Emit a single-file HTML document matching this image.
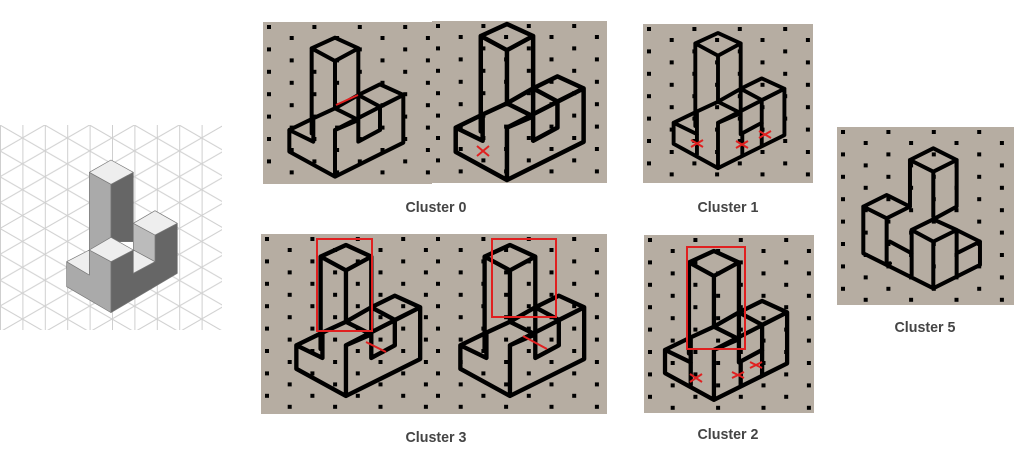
<!DOCTYPE html>
<html><head><meta charset="utf-8"><style>
html,body{margin:0;padding:0;background:#fff;width:1024px;height:453px;overflow:hidden}
</style></head><body>
<svg id="s" width="1024" height="453" viewBox="0 0 1024 453" xmlns="http://www.w3.org/2000/svg">
<defs>
<pattern id="tri" patternUnits="userSpaceOnUse" width="44.8" height="25.87" x="0" y="125">
<path d="M0.5,0 V25.87 M22.9,0 V25.87 M0,-25.87 L44.8,0 M0,0 L44.8,25.87 M0,25.87 L44.8,51.74 M0,0 L44.8,-25.87 M0,25.87 L44.8,0 M0,51.74 L44.8,25.87" stroke="#cfcfcf" stroke-width="1" fill="none"/>
</pattern>
<g id="T" fill="none" stroke="#000" stroke-width="12" stroke-linejoin="round" stroke-linecap="round">
<path d="M155,100 L225,68 L295,100 L225,138 Z M155,100 V355 M225,138 V280 M295,100 V380 L360,345 M295,240 L360,208 L430,240 L360,275 Z M360,275 V345 M430,240 V383 L225,485 L88,410 V345 L160,310 L225,280 L295,315 L225,345 Z M88,345 L160,380 V315 M225,345 V485 M225,280 L295,240"/>
</g>
</defs>
<rect x="0" y="125" width="222" height="205" fill="url(#tri)"/>
<g transform="translate(0,120) scale(0.3333)" stroke="#777" stroke-width="2" stroke-linejoin="round">
<polygon points="268,157 333,193 333,365 268,390" fill="#aaa"/>
<polygon points="333,193 400,157 400,365 333,365" fill="#666"/>
<polygon points="268,157 333,120 400,157 333,193" fill="#eee"/>
<polygon points="200,425 268,465 268,390 333,425 333,578 200,500" fill="#aaa"/>
<polygon points="200,425 268,390 268,465" fill="#eee"/>
<polygon points="333,425 400,390 400,460 465,425 465,345 532,310 532,460 333,578" fill="#666"/>
<polygon points="400,310 465,345 465,425 400,390" fill="#bbb"/>
<polygon points="400,310 465,272 532,310 465,345" fill="#eee"/>
<polygon points="400,390 465,425 400,460" fill="#eee"/>
<polygon points="268,390 333,352 400,390 333,425" fill="#eee"/>
</g>
<g id="panels"></g>
<g fill="none" stroke="#e02020" stroke-width="2">
<line x1="336" y1="105" x2="358" y2="95"/>
<path d="M477,146 L489,156 M477,156 L489,146"/>
<path d="M691,140 L703,147 M691,147 L703,140 M736,141 L748,148 M736,148 L748,141 M759,131 L771,138 M759,138 L771,131"/>
<rect x="317" y="239" width="55" height="92"/>
<rect x="492" y="239" width="64" height="78"/>
<rect x="687" y="247" width="58" height="102"/>
<line x1="366" y1="342" x2="386" y2="352"/>
<line x1="523" y1="336" x2="547" y2="349"/>
<path d="M690,374 L702,382 M690,382 L702,374 M732,372 L744,378 M732,378 L744,372 M750,362 L762,368 M750,368 L762,362"/>
</g>
<g font-family="Liberation Sans, sans-serif" font-weight="bold" font-size="15" fill="#454545" text-anchor="middle">
<text x="436" y="212" textLength="61" lengthAdjust="spacingAndGlyphs">Cluster 0</text>
<text x="728" y="212" textLength="61" lengthAdjust="spacingAndGlyphs">Cluster 1</text>
<text x="925" y="332" textLength="61" lengthAdjust="spacingAndGlyphs">Cluster 5</text>
<text x="436" y="442" textLength="61" lengthAdjust="spacingAndGlyphs">Cluster 3</text>
<text x="728" y="439" textLength="61" lengthAdjust="spacingAndGlyphs">Cluster 2</text>
</g>
</svg>
<script>
var NS="http://www.w3.org/2000/svg";
var g=document.getElementById('panels');
function el(n,a,p){var e=document.createElementNS(NS,n);for(var k in a)e.setAttribute(k,a[k]);(p||g).appendChild(e);return e;}
function panel(x,y,w,h){
  el('rect',{x:x,y:y,width:w,height:h,fill:'#b6ada2'});
  var c=0;
  for(var dx=6;dx<w-3;dx+=22.7,c++){
    for(var dy=(c%2?16:5);dy<h-3;dy+=22.4){
      el('rect',{x:(x+dx-2).toFixed(1),y:(y+dy-2).toFixed(1),width:4,height:4,fill:'#000'});
    }
  }
}
panel(263,22,169,162);panel(432,21,175,162);
panel(643,24,170,159);
panel(837,127,177,178);
panel(261,234,171,180);panel(432,234,175,180);
panel(644,235,170,178);
function use(tx,ty,s){el('use',{href:'#T',transform:'translate('+tx+','+ty+') scale('+s+')'});}
use(260,15,0.3333);
use(422.8,-1.4,0.374);
use(645.1,11,0.324);
use(264.5,220.4,0.362);
use(428.5,220.4,0.362);
use(633.6,226.7,0.357);
var ex=el('g',{transform:'translate(645.1,11) scale(0.324)',stroke:'#000','stroke-width':12,fill:'none'});
el('path',{d:'M160,380 V445 M300,378 V450 M360,345 V420'},ex);
var ex2=el('g',{transform:'translate(633.6,226.7) scale(0.357)',stroke:'#000','stroke-width':12,fill:'none'});
el('path',{d:'M160,380 V445 M300,378 V450 M360,345 V420'},ex2);
var c5=el('g',{transform:'translate(640,20) scale(0.3333)',stroke:'#000','stroke-width':12,fill:'none','stroke-linejoin':'round','stroke-linecap':'round'});
el('path',{d:'M810,420 L880,385 L950,420 L880,455 Z M810,420 V560 M880,455 V590 M950,420 V560 L880,598 M670,560 L740,525 L810,560 L740,595 Z M670,560 V700 L880,805 L1020,735 V665 L950,630 M740,595 V735 M815,630 L880,598 L950,630 L880,665 Z M880,665 V805 M815,630 V770 M950,630 V770 M950,700 L1020,665 M750,665 L815,700 M740,735 L750,730'},c5);
</script>
</body></html>
